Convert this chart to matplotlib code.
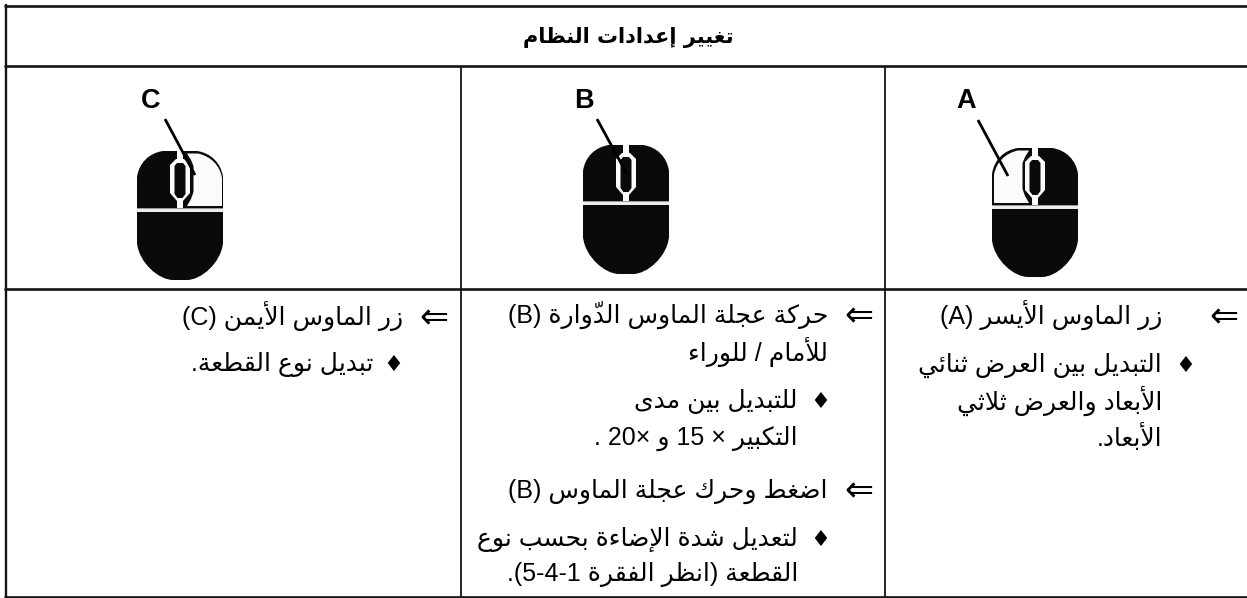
import unicodedata as ud
import re
import matplotlib
matplotlib.use("Agg")
import matplotlib.pyplot as plt
from matplotlib.path import Path
from matplotlib.patches import PathPatch, Rectangle

TITLE = "تغيير إعدادات النظام"
BUTTON_LABELS = ["C", "B", "A"]

# mouse: left, top, split, white button side
MICE = [(137, 151, 59, "right"), (583, 145, 58, None), (992, 148, 59, "left")]
POINTERS = [((165, 119), (195, 175)), ((597, 119), (627, 174)), ((978, 120), (1008, 176))]
LABEL_POS = [(151, 101), (584, 101), (966, 101)]

# (kind, mark right edge, text right edge, centre y, text)
LINES = [
    ("a", 1238, 1162, 318, "زر الماوس الأيسر (A)"),
    ("b", 1195, 1162, 366, "التبديل بين العرض ثنائي"),
    ("t", None, 1162, 404, "الأبعاد والعرض ثلاثي"),
    ("t", None, 1162, 440, "الأبعاد."),
    ("a", 873, 828, 317, "حركة عجلة الماوس الدوّارة (B)"),
    ("t", None, 828, 355, "للأمام / للوراء"),
    ("b", 830, 798, 402, "للتبديل بين مدى"),
    ("t", None, 798, 439, "التكبير × 15 و ×20 ."),
    ("a", 873, 828, 492, "اضغط وحرك عجلة الماوس (B)"),
    ("b", 830, 798, 540, "لتعديل شدة الإضاءة بحسب نوع"),
    ("t", None, 798, 575, "القطعة (انظر الفقرة 1-4-5)."),
    ("a", 448, 403, 319, "زر الماوس الأيمن (C)"),
    ("b", 403, 373, 365, "تبديل نوع القطعة."),
]
ARROW = "\u21d0"
BULLET = "\u2666"
FONT = ["Liberation Sans", "DejaVu Sans"]
BODY_PT = 18
MIRROR = {"(": ")", ")": "("}
LIG = {"\u0627": "ALEF", "\u0623": "ALEF WITH HAMZA ABOVE",
       "\u0625": "ALEF WITH HAMZA BELOW", "\u0622": "ALEF WITH MADDA ABOVE"}


def form(ch, kind):
    try:
        return ud.lookup(ud.name(ch) + " " + kind + " FORM")
    except (KeyError, ValueError):
        return None


def is_arabic(ch):
    return "\u0621" <= ch <= "\u064a"


def is_mark(ch):
    return "\u064b" <= ch <= "\u0652"


def joins_next(ch):
    return ch is not None and is_arabic(ch) and form(ch, "INITIAL") is not None


def joins_prev(ch):
    return ch is not None and is_arabic(ch) and form(ch, "FINAL") is not None


def visual(text):
    units = []
    for ch in text:
        if is_mark(ch) and units:
            units[-1][1] += ch
        else:
            units.append([ch, ""])
    out = []
    i = 0
    n = len(units)
    after_lig = False
    while i < n:
        ch, marks = units[i]
        prev = units[i - 1][0] if i else None
        if after_lig:
            prev = None
        after_lig = False
        nxt = units[i + 1][0] if i + 1 < n else None
        pj = joins_next(prev)
        if ch == "\u0644" and nxt in LIG:
            suffix = "FINAL" if pj else "ISOLATED"
            out.append(("r", ud.lookup("ARABIC LIGATURE LAM WITH " + LIG[nxt] + " " + suffix + " FORM") + marks))
            after_lig = True
            i += 2
            continue
        if is_arabic(ch):
            nj = joins_prev(nxt)
            if pj and nj and form(ch, "MEDIAL"):
                g = form(ch, "MEDIAL")
            elif pj and form(ch, "FINAL"):
                g = form(ch, "FINAL")
            elif nj and form(ch, "INITIAL"):
                g = form(ch, "INITIAL")
            else:
                g = form(ch, "ISOLATED") or ch
            out.append(("r", g + marks))
        elif re.match(r"[0-9A-Za-z]", ch):
            out.append(("l", ch))
        else:
            out.append(("r", MIRROR.get(ch, ch)))
        i += 1
    res = []
    run = []
    for kind, s in reversed(out):
        if kind == "l":
            run.insert(0, s)
        else:
            if run:
                res.append("".join(run))
                run = []
            res.append(s)
    if run:
        res.append("".join(run))
    return "".join(res)


fig = plt.figure(figsize=(12.47, 5.98), dpi=100, facecolor="white")
ax = fig.add_axes([0, 0, 1, 1])
ax.set_xlim(0, 1247)
ax.set_ylim(598, 0)
ax.axis("off")

LINE_C = "#141414"
for y in [5.8, 66.3, 289, 597]:
    ax.plot([4, 1247], [y, y], color=LINE_C, lw=1.9, solid_capstyle="butt")
ax.plot([6, 6], [4, 598], color=LINE_C, lw=1.7, solid_capstyle="butt")
ax.plot([461, 461], [66, 598], color=LINE_C, lw=1.3, solid_capstyle="butt")
ax.plot([885, 885], [66, 598], color=LINE_C, lw=1.3, solid_capstyle="butt")

M, L, C = Path.MOVETO, Path.LINETO, Path.CURVE4
DARK = "#0a0a0a"
WHITE = "#fbfbfb"


def add(verts, codes, fc, z=3):
    ax.add_patch(PathPatch(Path(verts, codes), fc=fc, ec="none", lw=0, zorder=z))


def mouse(x0, y0, split, white):
    w, h = 86, 129
    T = lambda u, v: (x0 + u, y0 + v)
    body = [T(0, split), T(0, 26), T(2, 12), T(12, 2), T(26, 0), T(60, 0), T(74, 2), T(84, 12), T(w, 26),
            T(w, 92), T(w - 2, 112), T(w - 22, h), T(w - 36, h), T(36, h), T(22, h), T(2, 112), T(0, 92), T(0, split)]
    add(body, [M, L, C, C, C, L, C, C, C, L, C, C, C, L, C, C, C, L], DARK)
    if white:
        mx = (lambda u: u) if white == "left" else (lambda u: 87 - u)
        S = lambda u, v: T(mx(u), v)
        btn = [S(2, split - 4), S(2, 27), S(4, 14), S(14, 5), S(26, 2.5), S(37, 2.5), S(33, 9), S(30.5, 15),
               S(30.5, 41), S(33, 48), S(37, split - 4), S(2, split - 4)]
        add(btn, [M, L, C, C, C, L, L, L, L, L, L, L], WHITE, z=4)
    cx = 43
    P = lambda u, v: T(cx + u, v)
    ax.add_patch(Rectangle(T(cx - 3, 0), 6, 10, fc=WHITE, ec="none", zorder=5))
    ring = [P(-4, 8), P(4, 8), P(10, 14), P(10, 42), P(3, 50), P(3, split), P(-3, split), P(-3, 50), P(-10, 42), P(-10, 14), P(-4, 8)]
    add(ring, [M] + [L] * 10, WHITE, z=5)
    inner = [P(-3, 12), P(3, 12), P(5.5, 15), P(5.5, 43), P(2.5, 47), P(-2.5, 47), P(-5.5, 43), P(-5.5, 15), P(-3, 12)]
    add(inner, [M] + [L] * 8, DARK, z=6)
    ax.add_patch(Rectangle(T(0, split - 2), w, 1, fc="#9a9a9a", ec="none", zorder=5))
    ax.add_patch(Rectangle(T(0, split - 1), w, 3, fc="#ededed", ec="none", zorder=5))


for m, (a, b), lab, pos in zip(MICE, POINTERS, BUTTON_LABELS, LABEL_POS):
    mouse(*m)
    ax.plot([a[0], b[0]], [a[1], b[1]], color="black", lw=2.0, zorder=8, solid_capstyle="butt")
    ax.text(pos[0], pos[1], lab, family=["Liberation Sans"], weight="bold", fontsize=19.5,
            ha="center", va="center", color="black", zorder=9)

ax.text(628, 43, visual(TITLE), family=["DejaVu Sans"], weight="bold", fontsize=15,
        ha="center", va="baseline", color="black")

for kind, mark_r, text_r, yc, s in LINES:
    ax.text(text_r, yc + 6, visual(s), family=FONT, fontsize=BODY_PT, ha="right", va="baseline", color="black")
    if kind == "a":
        ax.text(mark_r, yc + 9, ARROW, family=["DejaVu Sans"], fontsize=25, ha="right", va="baseline", color="black")
    elif kind == "b":
        ax.text(mark_r, yc + 6, BULLET, family=["DejaVu Sans"], fontsize=16, ha="right", va="baseline", color="black")

fig.savefig("out.png", dpi=100, facecolor="white")
